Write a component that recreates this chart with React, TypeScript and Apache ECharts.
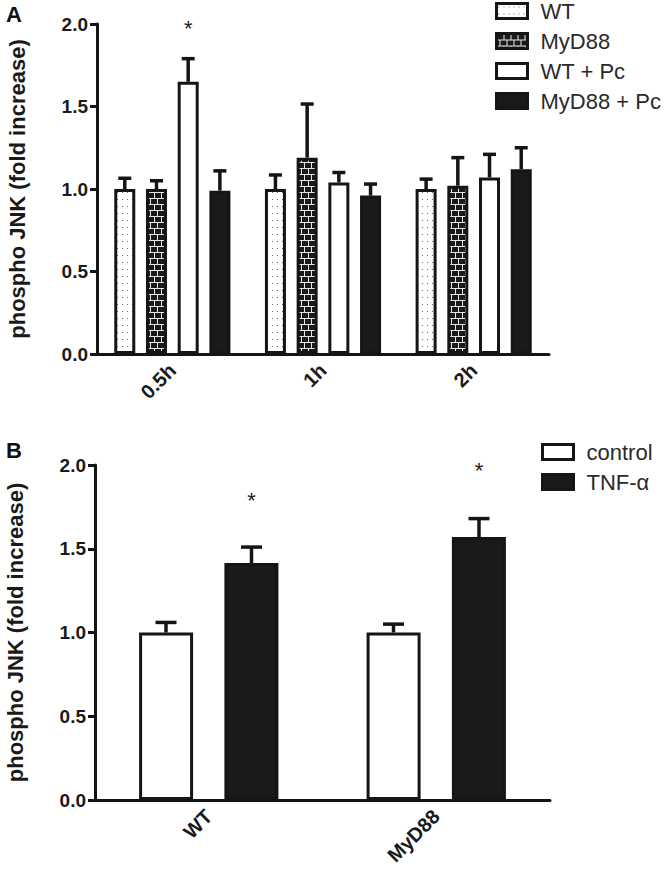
import React, { useEffect, useRef } from "react";
import * as echarts from "echarts";

const FONT = '"Liberation Sans", Arial, Helvetica, sans-serif';
const INK = "#151515";

// ---------- Panel A data ----------
const categoriesA = ["0.5h", "1h", "2h"];
const seriesNamesA = ["WT", "MyD88", "WT + Pc", "MyD88 + Pc"];
const wtA = [1.0, 1.0, 1.0];
const myd88A = [1.0, 1.19, 1.02];
const wtPcA = [1.65, 1.04, 1.07];
const myd88PcA = [0.99, 0.96, 1.12];
const wtErrTopA = [1.065, 1.085, 1.06];
const myd88ErrTopA = [1.05, 1.515, 1.19];
const wtPcErrTopA = [1.79, 1.1, 1.21];
const myd88PcErrTopA = [1.11, 1.03, 1.25];
// [category index, series index, y value of the asterisk]
const starsA = [[0, 2, 1.97]];

// ---------- Panel B data ----------
const categoriesB = ["WT", "MyD88"];
const seriesNamesB = ["control", "TNF-α"];
const controlB = [1.0, 1.0];
const tnfB = [1.415, 1.57];
const controlErrTopB = [1.06, 1.05];
const tnfErrTopB = [1.51, 1.68];
const starsB = [
  [0, 1, 1.79],
  [1, 1, 1.97],
];

const yAxisTitle = "phospho JNK (fold increase)";

function dotsPattern() {
  const c = document.createElement("canvas");
  c.width = 5;
  c.height = 7;
  const g = c.getContext("2d")!;
  g.fillStyle = "#ffffff";
  g.fillRect(0, 0, 5, 7);
  g.fillStyle = "#6a6a6a";
  g.fillRect(2, 3, 1, 1);
  return c;
}

function brickPattern() {
  const c = document.createElement("canvas");
  c.width = 14;
  c.height = 12;
  const g = c.getContext("2d")!;
  g.fillStyle = "#1a1a1a";
  g.fillRect(0, 0, 14, 12);
  g.fillStyle = "#e6e6e6";
  g.fillRect(0, 0, 14, 1);
  g.fillRect(0, 6, 14, 1);
  g.fillRect(0, 1, 1, 5);
  g.fillRect(7, 1, 1, 5);
  g.fillRect(3, 7, 1, 5);
  g.fillRect(10, 7, 1, 5);
  return c;
}

function errRender(n: number, pitch: number, cap: number, lw: number) {
  return (params: any, api: any) => {
    const cat = api.value(0);
    const mean = api.value(1);
    const top = api.value(2);
    const idx = api.value(3);
    const p0 = api.coord([cat, mean]);
    const p1 = api.coord([cat, top]);
    const x = p0[0] + (idx - (n - 1) / 2) * pitch;
    const style = { stroke: INK, lineWidth: lw };
    return {
      type: "group",
      children: [
        { type: "line", shape: { x1: x, y1: p0[1], x2: x, y2: p1[1] }, style },
        { type: "line", shape: { x1: x - cap / 2, y1: p1[1], x2: x + cap / 2, y2: p1[1] }, style },
      ],
    };
  };
}

function starRender(n: number, pitch: number) {
  return (params: any, api: any) => {
    const cat = api.value(0);
    const idx = api.value(1);
    const y = api.value(2);
    const p = api.coord([cat, y]);
    const x = p[0] + (idx - (n - 1) / 2) * pitch;
    return {
      type: "text",
      x,
      y: p[1],
      style: {
        text: "*",
        fill: "#222",
        fontSize: 22,
        fontFamily: FONT,
        align: "center",
        verticalAlign: "middle",
      },
    };
  };
}

export default function App() {
  const ref = useRef<HTMLDivElement>(null);

  useEffect(() => {
    if (!ref.current) return;
    const chart = echarts.init(ref.current, null, { renderer: "svg" });

    const dots = { image: dotsPattern(), repeat: "repeat" };
    const bricks = { image: brickPattern(), repeat: "repeat" };

    const barWA = 21;
    const pitchA = 31.7;
    const gapA = Math.round(((pitchA - barWA) / barWA) * 100) + "%";
    const barWB = 54;
    const pitchB = 85.5;
    const gapB = Math.round(((pitchB - barWB) / barWB) * 100) + "%";

    const meansA = [wtA, myd88A, wtPcA, myd88PcA];
    const topsA = [wtErrTopA, myd88ErrTopA, wtPcErrTopA, myd88PcErrTopA];
    const fillsA: any[] = [dots, bricks, "#ffffff", "#1a1a1a"];
    const errDataA: number[][] = [];
    meansA.forEach((arr, s) =>
      arr.forEach((v, c) => errDataA.push([c, v, topsA[s][c], s]))
    );

    const meansB = [controlB, tnfB];
    const topsB = [controlErrTopB, tnfErrTopB];
    const fillsB: any[] = ["#ffffff", "#1a1a1a"];
    const errDataB: number[][] = [];
    meansB.forEach((arr, s) =>
      arr.forEach((v, c) => errDataB.push([c, v, topsB[s][c], s]))
    );

    const xAxisCommon = (data: string[], gridIndex: number) => ({
      type: "category",
      gridIndex,
      data,
      axisLine: { lineStyle: { color: INK, width: 3 } },
      axisTick: { alignWithLabel: true, length: 8, lineStyle: { color: INK, width: 3 } },
      axisLabel: {
        rotate: 45,
        margin: 13,
        fontSize: 20,
        fontWeight: "bold",
        fontFamily: FONT,
        color: "#1a1a1a",
      },
      splitLine: { show: false },
    });

    const yAxisCommon = (gridIndex: number, nameGap: number) => ({
      type: "value",
      gridIndex,
      min: 0,
      max: 2,
      interval: 0.5,
      name: yAxisTitle,
      nameLocation: "middle",
      nameGap,
      nameTextStyle: { fontSize: 22, fontWeight: "bold", fontFamily: FONT, color: "#1a1a1a" },
      axisLine: { show: true, lineStyle: { color: INK, width: 3 } },
      axisTick: { show: true, length: 7, lineStyle: { color: INK, width: 3 } },
      axisLabel: {
        formatter: (v: number) => v.toFixed(1),
        margin: 9,
        fontSize: 19,
        fontWeight: "bold",
        fontFamily: FONT,
        color: "#1a1a1a",
      },
      splitLine: { show: false },
    });

    const legendCommon = {
      orient: "vertical",
      padding: 0,
      icon: "rect",
      selectedMode: false,
      itemWidth: 31,
      itemHeight: 15,
      textStyle: {
        fontSize: 22,
        fontFamily: FONT,
        color: "#2a2a2a",
        padding: [0, 0, 0, 8],
      },
      itemStyle: { borderWidth: 3, borderColor: INK },
    };

    const option: any = {
      animation: false,
      backgroundColor: "#ffffff",
      title: [
        {
          text: "A",
          left: 6,
          top: 3,
          padding: 0,
          textStyle: { fontSize: 22, fontWeight: "bold", fontFamily: FONT, color: "#111" },
        },
        {
          text: "B",
          left: 6,
          top: 439,
          padding: 0,
          textStyle: { fontSize: 22, fontWeight: "bold", fontFamily: FONT, color: "#111" },
        },
      ],
      legend: [
        { ...legendCommon, left: 495, top: 0, itemGap: 8, data: seriesNamesA },
        { ...legendCommon, left: 541, top: 441, itemGap: 8, data: seriesNamesB },
      ],
      grid: [
        { left: 97, top: 24, width: 452, height: 330, outerBoundsMode: "none" },
        { left: 95, top: 465, width: 455, height: 335, outerBoundsMode: "none" },
      ],
      xAxis: [xAxisCommon(categoriesA, 0), xAxisCommon(categoriesB, 1)],
      yAxis: [yAxisCommon(0, 69), yAxisCommon(1, 69)],
      series: [
        ...seriesNamesA.map((name, s) => ({
          type: "bar",
          name,
          xAxisIndex: 0,
          yAxisIndex: 0,
          data: meansA[s],
          barWidth: barWA,
          barGap: gapA,
          itemStyle: { color: fillsA[s], borderColor: INK, borderWidth: 3 },
        })),
        ...seriesNamesB.map((name, s) => ({
          type: "bar",
          name,
          xAxisIndex: 1,
          yAxisIndex: 1,
          data: meansB[s],
          barWidth: barWB,
          barGap: gapB,
          itemStyle: { color: fillsB[s], borderColor: INK, borderWidth: 3 },
        })),
        {
          type: "custom",
          xAxisIndex: 0,
          yAxisIndex: 0,
          z: 5,
          silent: true,
          data: errDataA,
          renderItem: errRender(4, pitchA, 13, 3.5),
        },
        {
          type: "custom",
          xAxisIndex: 1,
          yAxisIndex: 1,
          z: 5,
          silent: true,
          data: errDataB,
          renderItem: errRender(2, pitchB, 21, 3.5),
        },
        {
          type: "custom",
          xAxisIndex: 0,
          yAxisIndex: 0,
          z: 6,
          silent: true,
          data: starsA,
          renderItem: starRender(4, pitchA),
        },
        {
          type: "custom",
          xAxisIndex: 1,
          yAxisIndex: 1,
          z: 6,
          silent: true,
          data: starsB,
          renderItem: starRender(2, pitchB),
        },
      ],
    };

    chart.setOption(option);
    return () => chart.dispose();
  }, []);

  return (
    <div
      ref={ref}
      style={{ position: "absolute", left: 0, top: 0, width: 666, height: 880 }}
    />
  );
}
